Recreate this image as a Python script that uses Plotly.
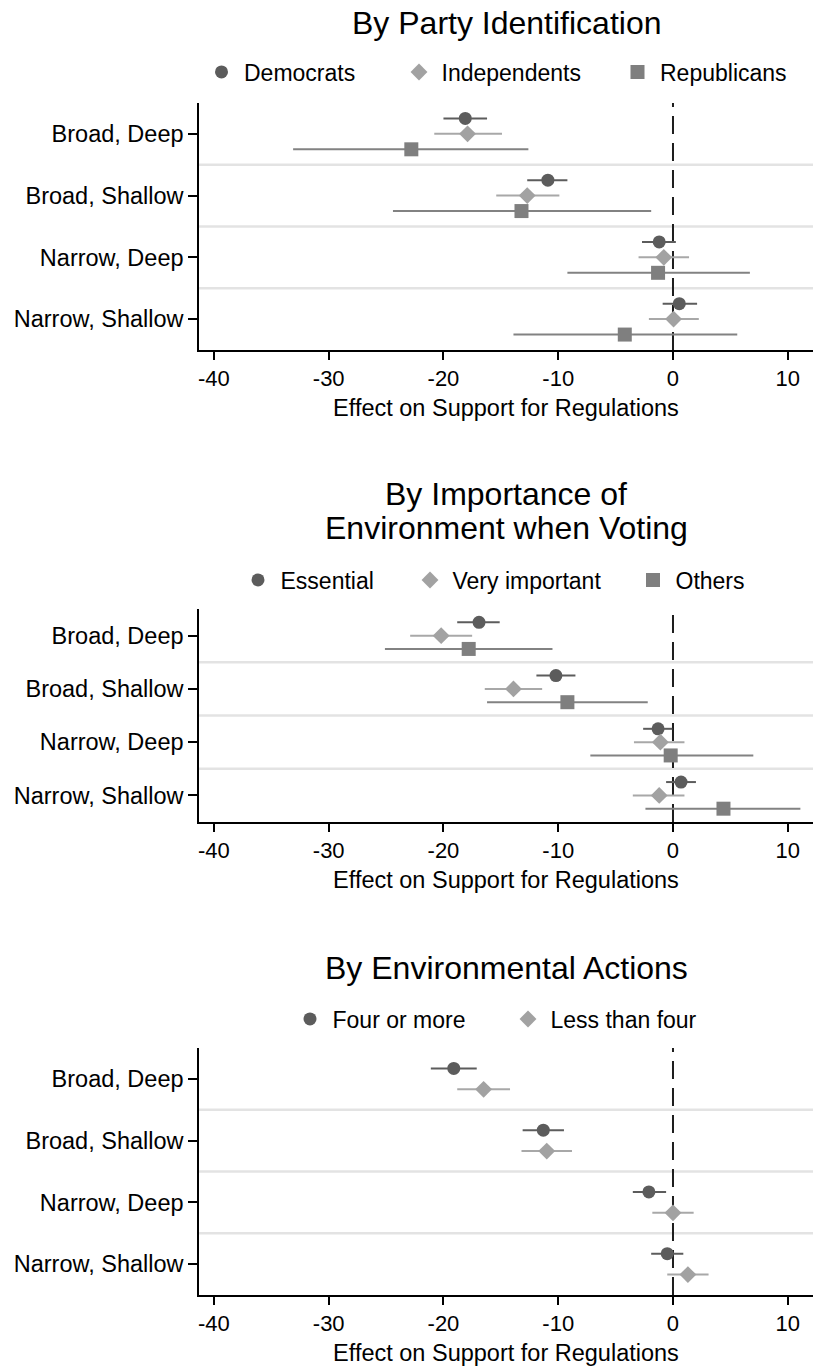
import plotly.graph_objects as go

# ---------------------------------------------------------------- data
categories = ["Broad, Deep", "Broad, Shallow", "Narrow, Deep", "Narrow, Shallow"]
x_ticks = [-40, -30, -20, -10, 0, 10]
x_tick_labels = ["-40", "-30", "-20", "-10", "0", "10"]

# Panel 1: party identification (estimate, lower CI, upper CI)
dem_est = [-18.1, -10.9, -1.2, 0.55]
dem_lo = [-20.0, -12.7, -2.7, -0.9]
dem_hi = [-16.2, -9.2, 0.25, 2.1]
ind_est = [-17.9, -12.7, -0.8, 0.05]
ind_lo = [-20.8, -15.4, -3.0, -2.1]
ind_hi = [-14.9, -9.9, 1.4, 2.25]
rep_est = [-22.8, -13.2, -1.3, -4.2]
rep_lo = [-33.1, -24.4, -9.2, -13.9]
rep_hi = [-12.6, -1.9, 6.7, 5.6]

# Panel 2: importance of environment when voting
ess_est = [-16.9, -10.2, -1.3, 0.7]
ess_lo = [-18.8, -11.9, -2.6, -0.6]
ess_hi = [-15.1, -8.5, -0.05, 2.0]
vi_est = [-20.2, -13.9, -1.1, -1.2]
vi_lo = [-22.9, -16.4, -3.4, -3.5]
vi_hi = [-17.5, -11.4, 1.0, 1.0]
oth_est = [-17.8, -9.2, -0.2, 4.4]
oth_lo = [-25.1, -16.2, -7.2, -2.4]
oth_hi = [-10.5, -2.2, 7.0, 11.1]

# Panel 3: number of environmental actions
four_est = [-19.1, -11.3, -2.1, -0.5]
four_lo = [-21.1, -13.1, -3.5, -1.9]
four_hi = [-17.1, -9.5, -0.6, 0.9]
less_est = [-16.5, -11.0, 0.0, 1.3]
less_lo = [-18.8, -13.2, -1.8, -0.5]
less_hi = [-14.2, -8.8, 1.8, 3.1]

# ---------------------------------------------------------------- styling
W, H = 813, 1366
FONT = "Liberation Sans, Arial, Helvetica, sans-serif"
DARK = "#5c5c5c"
LIGHT = "#a2a2a2"
MID = "#7f7f7f"
SEP = "#e3e3e3"

STYLE = {
    "circle": dict(color=DARK, size=13, bar=DARK),
    "diamond": dict(color=LIGHT, size=13, bar="#a8a8a8"),
    "square": dict(color=MID, size=14, bar="#828282"),
}


def px_x(v):
    return v / W


def px_y(v):
    return 1 - v / H


panels = [
    dict(
        title=["By Party Identification"], title_y=[23],
        top=103, bottom=350,
        series=[
            ("Democrats", dem_est, dem_lo, dem_hi, "circle", -0.25, 221.5),
            ("Independents", ind_est, ind_lo, ind_hi, "diamond", 0.0, 419),
            ("Republicans", rep_est, rep_lo, rep_hi, "square", 0.25, 637.5),
        ],
        legend_y=72,
    ),
    dict(
        title=["By Importance of", "Environment when Voting"], title_y=[494, 528],
        top=609, bottom=822,
        series=[
            ("Essential", ess_est, ess_lo, ess_hi, "circle", -0.25, 258),
            ("Very important", vi_est, vi_lo, vi_hi, "diamond", 0.0, 430),
            ("Others", oth_est, oth_lo, oth_hi, "square", 0.25, 653),
        ],
        legend_y=580,
    ),
    dict(
        title=["By Environmental Actions"], title_y=[968],
        top=1048, bottom=1295,
        series=[
            ("Four or more", four_est, four_lo, four_hi, "circle", -0.17, 310),
            ("Less than four", less_est, less_lo, less_hi, "diamond", 0.17, 528),
        ],
        legend_y=1019,
    ),
]

fig = go.Figure()
layout = dict(
    width=W, height=H,
    margin=dict(l=0, r=0, t=0, b=0),
    paper_bgcolor="white", plot_bgcolor="white",
    font=dict(family=FONT, color="black"),
    showlegend=True,
    annotations=[], shapes=[],
)

X0 = 199
legend_n = 0
for i, p in enumerate(panels):
    k = "" if i == 0 else str(i + 1)
    xa, ya = "x" + k, "y" + k
    layout["xaxis" + k] = dict(
        domain=[px_x(X0), 1], anchor=ya, range=[-41.3, 12.2],
        tickvals=x_ticks, ticktext=x_tick_labels,
        ticks="outside", ticklen=8, tickwidth=1.5,
        tickcolor="black", showline=True, linecolor="black", linewidth=1.5,
        showgrid=False, zeroline=False, tickfont=dict(size=22),
        title=dict(text="Effect on Support for Regulations",
                   font=dict(size=23.5), standoff=9),
    )
    layout["yaxis" + k] = dict(
        domain=[px_y(p["bottom"]), px_y(p["top"])], anchor=xa,
        range=[3.5, -0.5], tickvals=list(range(len(categories))),
        ticktext=categories, ticks="outside", ticklen=9, tickwidth=1.5,
        tickcolor="black", showline=True, linecolor="black", linewidth=1.5,
        showgrid=False, zeroline=False, tickfont=dict(size=23.5),
    )
    # category separators
    for b in [0.5, 1.5, 2.5]:
        layout["shapes"].append(dict(
            type="line", xref=xa + " domain", yref=ya, x0=0, x1=1, y0=b, y1=b,
            line=dict(color=SEP, width=2.5), layer="below"))
    # reference line at zero
    layout["shapes"].append(dict(
        type="line", xref=xa, yref=ya + " domain", x0=0, x1=0, y0=0, y1=1,
        line=dict(color="#1e1e1e", width=2, dash="18px,9px"), layer="below"))

    for name, est, lo, hi, sym, off, lx in p["series"]:
        legend_n += 1
        lkey = "legend" if legend_n == 1 else "legend" + str(legend_n)
        st = STYLE[sym]
        fig.add_trace(go.Scatter(
            x=est, y=[j + off for j in range(len(est))],
            xaxis=xa, yaxis=ya, mode="markers", name=name,
            legend=lkey,
            marker=dict(symbol=sym, size=st["size"], color=st["color"]),
            error_x=dict(type="data", symmetric=False,
                         array=[h - e for h, e in zip(hi, est)],
                         arrayminus=[e - l for e, l in zip(est, lo)],
                         width=0, thickness=2, color=st["bar"]),
        ))
        layout[lkey] = dict(
            x=px_x(lx - 22.5), xanchor="left", y=px_y(p["legend_y"]),
            yanchor="middle", orientation="h", bgcolor="rgba(0,0,0,0)",
            font=dict(size=23, family=FONT, color="black"),
            borderwidth=0, tracegroupgap=0, itemwidth=35,
        )

    for line, ty in zip(p["title"], p["title_y"]):
        layout["annotations"].append(dict(
            text=line, xref="paper", yref="paper",
            x=px_x((X0 + W) / 2), y=px_y(ty), xanchor="center", yanchor="middle",
            showarrow=False, font=dict(size=32, family=FONT, color="black")))

fig.update_layout(**layout)
fig.write_html("out.html")
